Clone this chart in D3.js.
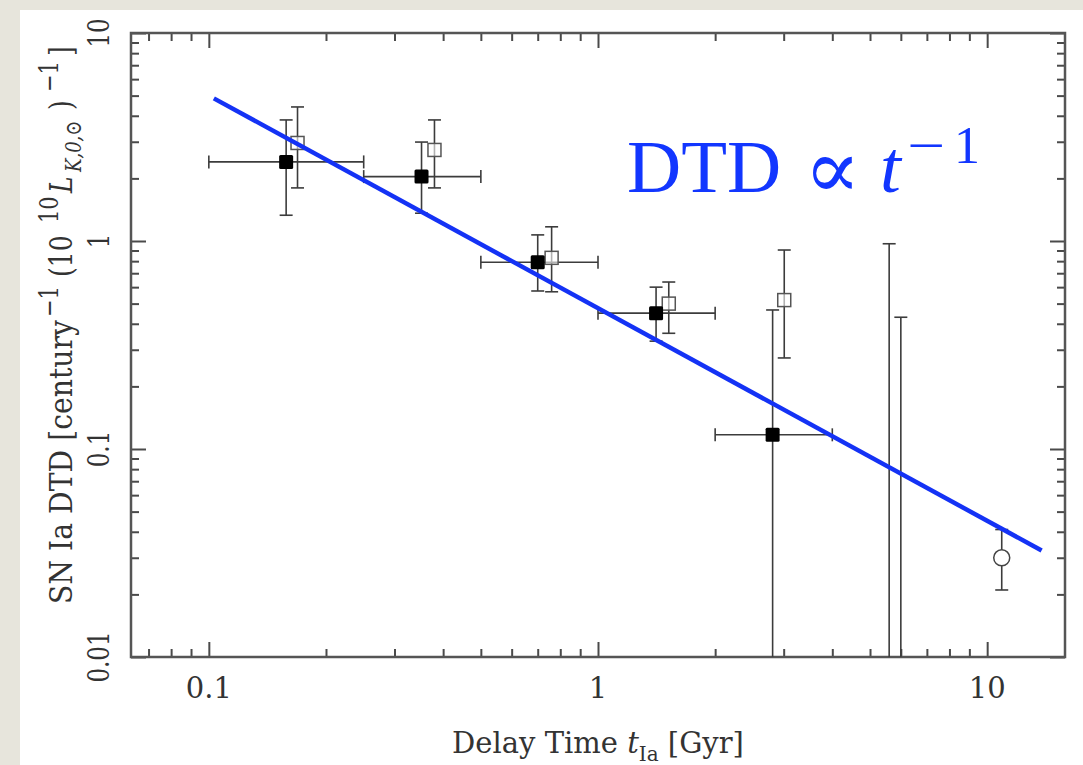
<!DOCTYPE html>
<html>
<head>
<meta charset="utf-8">
<script src="https://cdn.jsdelivr.net/npm/d3@7"></script>
<style>
  html, body { margin: 0; padding: 0; background: #e7e5dc; }
  svg { display: block; }
</style>
</head>
<body>
<div id="chart"></div>
<script>
// filled squares (with x bins)
var tFill   = [0.158, 0.352, 0.70, 1.41, 2.81];
var tFillLo = [0.10, 0.25, 0.50, 1.00, 2.00];
var tFillHi = [0.25, 0.50, 1.00, 2.00, 4.00];
var rFill   = [2.40, 2.04, 0.79, 0.45, 0.117];
var rFillLo = [1.33, 1.36, 0.575, 0.33, 0.001];
var rFillHi = [3.82, 2.99, 1.07, 0.60, 0.466];

// open squares
var tOpen   = [0.169, 0.380, 0.76, 1.52, 3.01];
var rOpen   = [2.96, 2.74, 0.83, 0.50, 0.52];
var rOpenLo = [1.80, 1.80, 0.57, 0.36, 0.274];
var rOpenHi = [4.41, 3.82, 1.17, 0.635, 0.905];

// upper limits (no marker)
var tLim   = [5.6, 6.0];
var rLimHi = [0.97, 0.43];

// open circle
var tCirc = [10.9], rCirc = [0.030], rCircLo = [0.021], rCircHi = [0.041];

// DTD ~ t^-1 line
var lineT = [0.103, 13.8];
var lineR = [4.85, 0.0325];

var xMajor = [0.1, 1, 10], xLabels = ["0.1", "1", "10"];
var yMajor = [0.01, 0.1, 1, 10], yLabels = ["0.01", "0.1", "1", "10"];

var W = 1083, H = 765;
var margin = {top: 33, right: 18, bottom: 108, left: 131},
    x0 = margin.left, x1 = W - margin.right,
    y0 = margin.top, y1 = H - margin.bottom;

var svg = d3.select("#chart").append("svg")
    .attr("width", W).attr("height", H);

svg.append("rect").attr("width", W).attr("height", H).attr("fill", "#e7e5dc");
svg.append("rect").attr("x", 20).attr("y", 10)
    .attr("width", W - 20).attr("height", H - 10).attr("fill", "#fff");

var x = d3.scaleLog().domain([Math.pow(10, -1.2), Math.pow(10, 1.2)]).range([x0, x1]);
var y = d3.scaleLog().domain([0.01, 10]).range([y1, y0]);

var isMajor = function(v) { return Math.abs(Math.log10(v) - Math.round(Math.log10(v))) < 1e-6; };
var xMinor = x.ticks().filter(function(v) { return !isMajor(v); });
var yMinor = y.ticks().filter(function(v) { return !isMajor(v); });

var tickCol = "#4a4a4a";
function styleAxis(g) {
    g.select(".domain").remove();
    g.selectAll(".tick line").attr("stroke", tickCol).attr("stroke-width", 2);
    g.selectAll(".tick text").remove();
}
// ticks on all four sides, pointing in
[[d3.axisBottom, y1], [d3.axisTop, y0]].forEach(function(a) {
    svg.append("g").attr("transform", "translate(0," + a[1] + ")")
        .call(a[0](x).tickValues(xMinor).tickSize(-8)).call(styleAxis);
    svg.append("g").attr("transform", "translate(0," + a[1] + ")")
        .call(a[0](x).tickValues(xMajor).tickSize(-15)).call(styleAxis);
});
[[d3.axisLeft, x0], [d3.axisRight, x1]].forEach(function(a) {
    svg.append("g").attr("transform", "translate(" + a[1] + ",0)")
        .call(a[0](y).tickValues(yMinor).tickSize(-8)).call(styleAxis);
    svg.append("g").attr("transform", "translate(" + a[1] + ",0)")
        .call(a[0](y).tickValues(yMajor).tickSize(-15)).call(styleAxis);
});

svg.append("rect").attr("x", x0).attr("y", y0)
    .attr("width", x1 - x0).attr("height", y1 - y0)
    .attr("fill", "none").attr("stroke", "#555").attr("stroke-width", 2.5);

// tick labels
svg.append("g").selectAll("text").data(xMajor).enter().append("text")
    .attr("x", function(d) { return x(d); }).attr("y", 698)
    .attr("text-anchor", "middle")
    .style("font-family", "DejaVu Serif").style("font-size", "29px").attr("fill", "#333")
    .text(function(d, i) { return xLabels[i]; });

svg.append("g").selectAll("text").data(yMajor).enter().append("text")
    .attr("transform", function(d) { return "translate(109," + y(d) + ") scale(1.3,1) rotate(-90)"; })
    .attr("text-anchor", "middle")
    .style("font-family", "DejaVu Serif").style("font-size", "23px").attr("fill", "#333")
    .text(function(d, i) { return yLabels[i]; });

// axis titles
var xt = svg.append("text").attr("x", 598).attr("y", 753).attr("text-anchor", "middle")
    .style("font-family", "DejaVu Serif").style("font-size", "29px").attr("fill", "#333");
xt.append("tspan").text("Delay Time ");
xt.append("tspan").style("font-style", "italic").text("t");
xt.append("tspan").attr("dy", 8).style("font-size", "20px").text("Ia");
xt.append("tspan").attr("dy", -8).text(" [Gyr]");

// y title: pieces placed along the (rotated) baseline
var yParts = [
    {s: "SN Ia DTD [century", at: 0, len: 284},
    {s: "−1", at: 287, sup: true},
    {s: "(10", at: 327},
    {s: "10", at: 381, sup: true},
    {s: "L", at: 411, it: true},
    {s: "K,0,⊙", at: 432, sub: true, it: true},
    {s: ")", at: 494},
    {s: "−1", at: 512, sup: true},
    {s: "]", at: 548}
];
var yt = svg.append("text").attr("transform", "translate(72,604) scale(1.25,1) rotate(-90)")
    .style("font-family", "DejaVu Serif").style("font-size", "25px").attr("fill", "#333");
yParts.forEach(function(p) {
    var ts = yt.append("tspan").attr("x", p.at)
        .attr("y", p.sup ? -11 : (p.sub ? 7 : 0)).text(p.s);
    if (p.sup) ts.style("font-size", "21px");
    if (p.sub) ts.style("font-size", "18px");
    if (p.it) ts.style("font-style", "italic");
    if (p.len) ts.attr("textLength", p.len).attr("lengthAdjust", "spacingAndGlyphs");
});

// data
svg.append("clipPath").attr("id", "clip").append("rect")
    .attr("x", x0).attr("y", y0).attr("width", x1 - x0).attr("height", y1 - y0);
var plot = svg.append("g").attr("clip-path", "url(#clip)");

var errCol = "#3c3c3c", cap = 6.5;
function vbar(t, lo, hi, capLo, capHi) {
    plot.append("line").attr("x1", x(t)).attr("x2", x(t)).attr("y1", y(lo)).attr("y2", y(hi))
        .attr("stroke", errCol).attr("stroke-width", 1.6);
    if (capHi) plot.append("line").attr("x1", x(t) - cap).attr("x2", x(t) + cap)
        .attr("y1", y(hi)).attr("y2", y(hi)).attr("stroke", errCol).attr("stroke-width", 1.6);
    if (capLo) plot.append("line").attr("x1", x(t) - cap).attr("x2", x(t) + cap)
        .attr("y1", y(lo)).attr("y2", y(lo)).attr("stroke", errCol).attr("stroke-width", 1.6);
}
function hbar(r, lo, hi) {
    plot.append("line").attr("x1", x(lo)).attr("x2", x(hi)).attr("y1", y(r)).attr("y2", y(r))
        .attr("stroke", errCol).attr("stroke-width", 1.6);
    [lo, hi].forEach(function(v) {
        plot.append("line").attr("x1", x(v)).attr("x2", x(v))
            .attr("y1", y(r) - cap).attr("y2", y(r) + cap)
            .attr("stroke", errCol).attr("stroke-width", 1.6);
    });
}

tOpen.forEach(function(t, i) { vbar(t, rOpenLo[i], rOpenHi[i], true, true); });
tLim.forEach(function(t, i) { vbar(t, 0.001, rLimHi[i], false, true); });
tCirc.forEach(function(t, i) { vbar(t, rCircLo[i], rCircHi[i], true, true); });
tFill.forEach(function(t, i) {
    vbar(t, rFillLo[i], rFillHi[i], rFillLo[i] > 0.01, true);
    hbar(rFill[i], tFillLo[i], tFillHi[i]);
});

plot.selectAll(".open").data(tOpen).enter().append("rect")
    .attr("x", function(d) { return x(d) - 6.5; })
    .attr("y", function(d, i) { return y(rOpen[i]) - 6.5; })
    .attr("width", 13).attr("height", 13)
    .attr("fill", "#fff").attr("fill-opacity", 0.6).attr("stroke", "#555").attr("stroke-width", 1.5);

plot.selectAll(".circ").data(tCirc).enter().append("circle")
    .attr("cx", function(d) { return x(d); })
    .attr("cy", function(d, i) { return y(rCirc[i]); })
    .attr("r", 8).attr("fill", "#fff").attr("stroke", "#444").attr("stroke-width", 1.5);

plot.selectAll(".fill").data(tFill).enter().append("rect")
    .attr("x", function(d) { return x(d) - 7; })
    .attr("y", function(d, i) { return y(rFill[i]) - 7; })
    .attr("width", 14).attr("height", 14).attr("rx", 1.5)
    .attr("fill", "#000");

// t^-1 line
var pts = lineT.map(function(t, i) { return [t, lineR[i]]; });
svg.append("path").datum(pts)
    .attr("d", d3.line().x(function(d) { return x(d[0]); }).y(function(d) { return y(d[1]); }))
    .attr("stroke", "#1432f5").attr("stroke-width", 4.5).attr("fill", "none");

// annotation
var ann = svg.append("text").attr("fill", "#1236ff").style("font-family", "Liberation Serif");
ann.append("tspan").attr("x", 627).attr("y", 192).style("font-size", "75px").text("DTD");
ann.append("tspan").attr("x", 804).attr("y", 198).style("font-family", "DejaVu Serif").style("font-size", "84px").text("∝");
ann.append("tspan").attr("x", 880).attr("y", 192).style("font-size", "75px").style("font-style", "italic").text("t");
ann.append("tspan").attr("x", 907).attr("y", 163).style("font-size", "52px")
    .attr("textLength", 38).attr("lengthAdjust", "spacingAndGlyphs").text("−");
ann.append("tspan").attr("x", 954).attr("y", 163).style("font-size", "52px").text("1");
</script>
</body>
</html>
